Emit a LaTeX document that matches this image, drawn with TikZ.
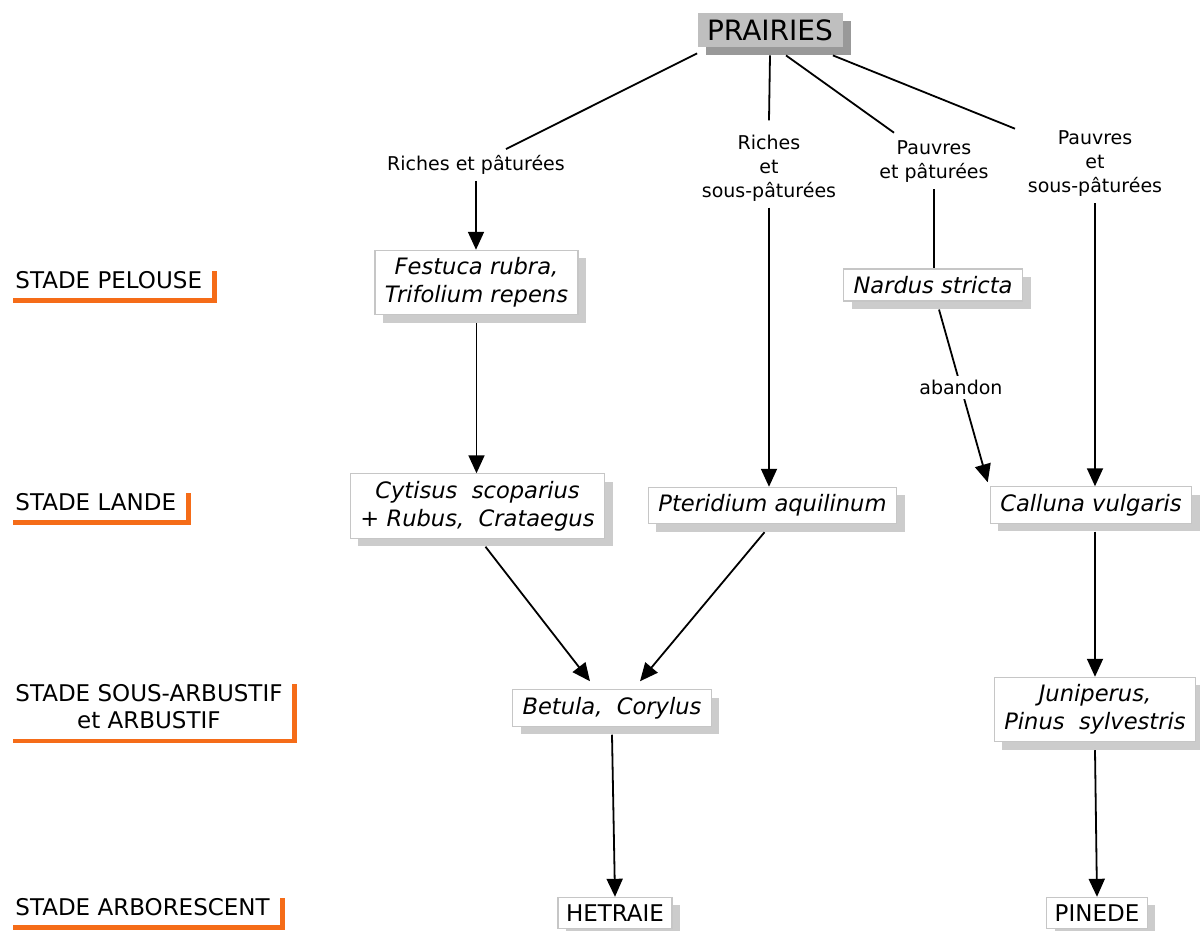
\documentclass[tikz,border=0pt]{standalone}
\usepackage{fontspec}
\setmainfont{DejaVu Sans}
\usetikzlibrary{positioning,arrows.meta,shadows,calc}

\definecolor{stadeorange}{RGB}{245,108,24}

\tikzset{
  espece/.style={draw=gray!45, line width=0.6pt, fill=white, align=center,
    font=\itshape\fontsize{11.3}{14}\selectfont, inner xsep=5pt, inner ysep=3.6pt,
    drop shadow={shadow xshift=4pt, shadow yshift=-4pt, fill=gray!40, opacity=1}},
  foret/.style={espece, font=\fontsize{11.5}{14}\selectfont, inner xsep=4pt},
  milieu/.style={align=center, font=\fontsize{9.5}{12}\selectfont, inner sep=3pt},
  stade/.style={align=center, font=\fontsize{11.5}{13.5}\selectfont, inner sep=0pt},
  stadetrait/.style={draw=stadeorange, line width=2.4pt},
  fleche/.style={-{Triangle[length=9pt,width=8pt]}, line width=0.9pt},
  trait/.style={line width=0.9pt},
}

\begin{document}
\begin{tikzpicture}[x=0.5pt,y=-0.5pt]
  \useasboundingbox (0,0) rectangle (1200,931);
  % titre
  \node[fill=gray!50, minimum width=72.5pt, minimum height=17pt, inner sep=1pt,
        font=\fontsize{14}{16}\selectfont,
        drop shadow={shadow xshift=4pt, shadow yshift=-4pt, fill=gray!80, opacity=1}]
        (prairies) at (770,30) {PRAIRIES};
  % types de prairies
  \node[milieu] (richpat) at (476,165) {Riches et pâturées};
  \node[milieu] (richsous) at (769,168) {Riches\\et\\sous-pâturées};
  \node[milieu] (pauvpat) at (934,162) {Pauvres\\et pâturées};
  \node[milieu] (pauvsous) at (1095,164) {Pauvres\\et\\sous-pâturées};
  % especes
  \node[espece] (festuca) at (476.5,282.5) {Festuca rubra,\\Trifolium repens};
  \node[espece] (nardus) at (933,285) {Nardus stricta};
  \node[espece] (cytisus) at (477.5,506) {Cytisus\ \ scoparius\\+ Rubus,\ \ Crataegus};
  \node[espece] (pteridium) at (772.5,505.5) {Pteridium aquilinum};
  \node[espece] (calluna) at (1091,505) {Calluna vulgaris};
  \node[espece] (betula) at (612,708) {Betula,\ \ Corylus};
  \node[espece] (juniperus) at (1095,709.5) {Juniperus,\\Pinus\ \ sylvestris};
  \node[foret] (hetraie) at (615,913) {HETRAIE};
  \node[foret] (pinede) at (1097,913) {PINEDE};
  % stades
  \node[stade, anchor=base west] (pelouse) at (15,288) {STADE PELOUSE};
  \node[stade, anchor=base west] (lande) at (15,510) {STADE LANDE};
  \node[stade, anchor=south west] (arbustif) at (15,729) {STADE SOUS-ARBUSTIF\\et ARBUSTIF};
  \node[stade, anchor=base west] (arborescent) at (15,915) {STADE ARBORESCENT};
  \foreach \n in {pelouse,lande,arbustif,arborescent}
    \draw[stadetrait] ([xshift=-1pt,yshift=-6pt]\n.south west) -| ([xshift=6pt]\n.north east);
  % depuis les prairies
  \draw[trait] ([yshift=-3pt]prairies.south west) -- ([xshift=15pt]richpat.north);
  \draw[trait] ([yshift=-4pt]prairies.south) -- ([yshift=4pt]richsous.north);
  \draw[trait] ([xshift=8pt,yshift=-4pt]prairies.south) -- ([xshift=-20pt,yshift=1pt]pauvpat.north);
  \draw[trait] ([xshift=-5pt,yshift=-4pt]prairies.south east) -- ([xshift=-40pt,yshift=-2pt]pauvsous.north);
  \draw[fleche] (richpat.south) -- (richpat.south |- festuca.north);
  \draw[fleche] (richsous.south) -- (richsous.south |- pteridium.north);
  \draw[trait] (pauvpat.south) -- (pauvpat.south |- nardus.north);
  \draw[fleche] (pauvsous.south) -- (pauvsous.south |- calluna.north);
  % successions
  \draw[fleche] ([yshift=-4pt]festuca.south) -- (festuca.south |- cytisus.north);
  \draw[fleche] ([xshift=3pt,yshift=-4pt]nardus.south) -- ([xshift=-1pt,yshift=2pt]calluna.north west)
    node[pos=0.45, fill=white, inner sep=2pt, font=\fontsize{9.5}{12}\selectfont] (abandon) {abandon};
  \draw[fleche] ([xshift=4pt,yshift=-4pt]cytisus.south) -- ([xshift=-11pt,yshift=4pt]betula.north);
  \draw[fleche] ([xshift=-4pt,yshift=-4pt]pteridium.south) -- ([xshift=14pt,yshift=4pt]betula.north);
  \draw[fleche] ([yshift=-4pt]betula.south) -- (hetraie.north);
  \draw[fleche] ([xshift=2pt,yshift=-4pt]calluna.south) -- ([xshift=2pt]calluna.south |- juniperus.north);
  \draw[fleche] ([yshift=-4pt]juniperus.south) -- (pinede.north);
\end{tikzpicture}
\end{document}
